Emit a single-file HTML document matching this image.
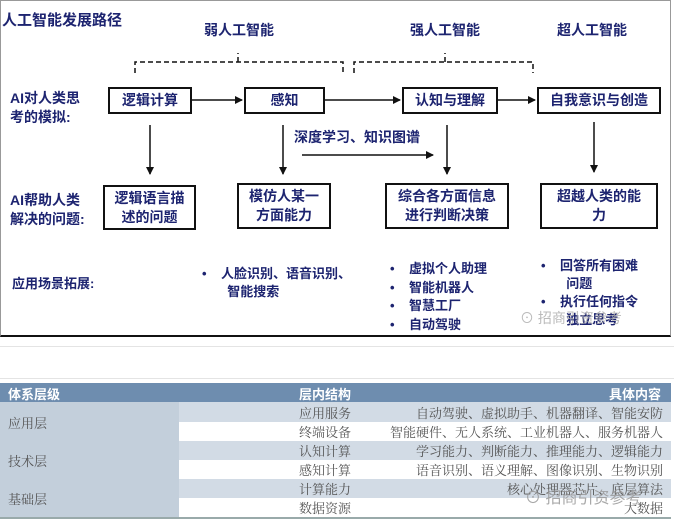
<!DOCTYPE html>
<html><head><meta charset="utf-8"><style>
body{margin:0;width:674px;height:523px;background:#fff;position:relative;overflow:hidden;font-family:"Liberation Sans","Noto Sans CJK SC",sans-serif}
.a{position:absolute;white-space:nowrap}
.k{color:#1d2470;font-weight:bold;font-size:14px}
.bx{position:absolute;border:2px solid #111;box-sizing:border-box;display:flex;align-items:center;justify-content:center;text-align:center;color:#1d2470;font-weight:bold;font-size:14px;line-height:19px;background:#fff}
.t{position:absolute;font-family:"Liberation Serif","Noto Serif CJK SC",serif;font-size:13px;color:#555;white-space:nowrap}
</style></head><body>
<div class="a" style="left:0;top:0;width:671px;height:337px;border:1px solid #999;border-bottom:2px solid #111;box-sizing:border-box"></div>
<div class="a" style="left:0;top:346px;width:674px;border-top:1px solid #e4e4e4"></div>
<div class="a k" style="left:2px;top:9px;font-size:15px">人工智能发展路径</div>
<div class="a k" style="left:204px;top:20px">弱人工智能</div>
<div class="a k" style="left:410px;top:20px">强人工智能</div>
<div class="a k" style="left:557px;top:20px">超人工智能</div>
<svg class="a" style="left:0;top:0" width="674" height="340">
<defs><marker id="ar" markerWidth="8" markerHeight="8" refX="7" refY="4" orient="auto" markerUnits="userSpaceOnUse"><path d="M0,0L8,4L0,8z" fill="#111"/></marker></defs>
<g stroke="#111" stroke-width="1.5" fill="none">
<path d="M135,73V62H343V73M238,62V53" stroke-dasharray="5,3"/>
<path d="M354,73V62H533V73M445,62V53" stroke-dasharray="5,3"/>
<path d="M192,100H242" marker-end="url(#ar)"/>
<path d="M325,100H400" marker-end="url(#ar)"/>
<path d="M498,100H535" marker-end="url(#ar)"/>
<path d="M150,125V174" marker-end="url(#ar)"/>
<path d="M283,125V174" marker-end="url(#ar)"/>
<path d="M447,125V174" marker-end="url(#ar)"/>
<path d="M594,122V172" marker-end="url(#ar)"/>
<path d="M302,155H433" marker-end="url(#ar)"/>
</g></svg>
<div class="bx" style="left:108px;top:87px;width:84px;height:27px">逻辑计算</div>
<div class="bx" style="left:244px;top:87px;width:81px;height:27px">感知</div>
<div class="bx" style="left:402px;top:87px;width:96px;height:27px">认知与理解</div>
<div class="bx" style="left:537px;top:87px;width:124px;height:27px">自我意识与创造</div>
<div class="a k" style="left:10px;top:89px;line-height:19px">AI对人类思<br>考的模拟:</div>
<div class="a k" style="left:294px;top:127px">深度学习、知识图谱</div>
<div class="bx" style="left:103px;top:185px;width:93px;height:45px">逻辑语言描<br>述的问题</div>
<div class="bx" style="left:237px;top:183px;width:94px;height:46px">模仿人某一<br>方面能力</div>
<div class="bx" style="left:385px;top:183px;width:124px;height:46px">综合各方面信息<br>进行判断决策</div>
<div class="bx" style="left:540px;top:183px;width:118px;height:46px">超越人类的能<br>力</div>
<div class="a k" style="left:10px;top:191px;line-height:19px">AI帮助人类<br>解决的问题:</div>
<div class="a k" style="left:12px;top:273px;font-size:13px">应用场景拓展:</div>
<div class="a k" style="left:202px;top:265px;font-size:13px;line-height:18px">•&nbsp;&nbsp;&nbsp;&nbsp;人脸识别、语音识别、<br>&nbsp;&nbsp;&nbsp;&nbsp;&nbsp;&nbsp;&nbsp;智能搜索</div>
<div class="a k" style="left:390px;top:260px;font-size:13px;line-height:18.5px">•&nbsp;&nbsp;&nbsp;&nbsp;虚拟个人助理<br>•&nbsp;&nbsp;&nbsp;&nbsp;智能机器人<br>•&nbsp;&nbsp;&nbsp;&nbsp;智慧工厂<br>•&nbsp;&nbsp;&nbsp;&nbsp;自动驾驶</div>
<div class="a k" style="left:541px;top:257px;font-size:13px;line-height:18px">•&nbsp;&nbsp;&nbsp;&nbsp;回答所有困难<br>&nbsp;&nbsp;&nbsp;&nbsp;&nbsp;&nbsp;&nbsp;问题<br>•&nbsp;&nbsp;&nbsp;&nbsp;执行任何指令<br>&nbsp;&nbsp;&nbsp;&nbsp;&nbsp;&nbsp;&nbsp;独立思考</div>
<div class="a" style="left:520px;top:308px;color:#aaa;font-size:14px;opacity:.8">⊙ 招商引资参考</div>
<!-- table -->
<div class="a" style="left:0;top:378px;width:674px;border-top:1px solid #e4e4e4"></div>
<div class="a" style="left:0;top:383px;width:671px;height:19px;background:#6e8daf"></div>
<div class="a" style="left:0;top:402px;width:179px;height:115px;background:#c3cfdb"></div>
<div class="a" style="left:179px;top:402px;width:492px;height:20px;background:#d2dbe5"></div>
<div class="a" style="left:179px;top:441px;width:492px;height:19px;background:#d2dbe5"></div>
<div class="a" style="left:179px;top:479px;width:492px;height:19px;background:#d2dbe5"></div>
<div class="a" style="left:0;top:517px;width:671px;height:2px;background:#9aa"></div>
<div class="a" style="left:8px;top:384px;color:#fff;font-weight:bold;font-size:13px">体系层级</div>
<div class="a" style="left:299px;top:384px;color:#fff;font-weight:bold;font-size:13px">层内结构</div>
<div class="a" style="left:609px;top:384px;color:#fff;font-weight:bold;font-size:13px">具体内容</div>
<div class="t" style="left:8px;top:413px">应用层</div>
<div class="t" style="left:8px;top:451px">技术层</div>
<div class="t" style="left:8px;top:489px">基础层</div>
<div class="t" style="left:299px;top:403px">应用服务</div>
<div class="t" style="left:299px;top:422px">终端设备</div>
<div class="t" style="left:299px;top:441px">认知计算</div>
<div class="t" style="left:299px;top:460px">感知计算</div>
<div class="t" style="left:299px;top:479px">计算能力</div>
<div class="t" style="left:299px;top:498px">数据资源</div>
<div class="t" style="right:11px;top:403px">自动驾驶、虚拟助手、机器翻译、智能安防</div>
<div class="t" style="right:11px;top:422px">智能硬件、无人系统、工业机器人、服务机器人</div>
<div class="t" style="right:11px;top:441px">学习能力、判断能力、推理能力、逻辑能力</div>
<div class="t" style="right:11px;top:460px">语音识别、语义理解、图像识别、生物识别</div>
<div class="t" style="right:11px;top:479px">核心处理器芯片、底层算法</div>
<div class="t" style="right:11px;top:498px">大数据</div>
<div class="a" style="left:525px;top:484px;color:#999;font-size:16px;opacity:.85">⊙ 招商引资参考</div>
</body></html>
